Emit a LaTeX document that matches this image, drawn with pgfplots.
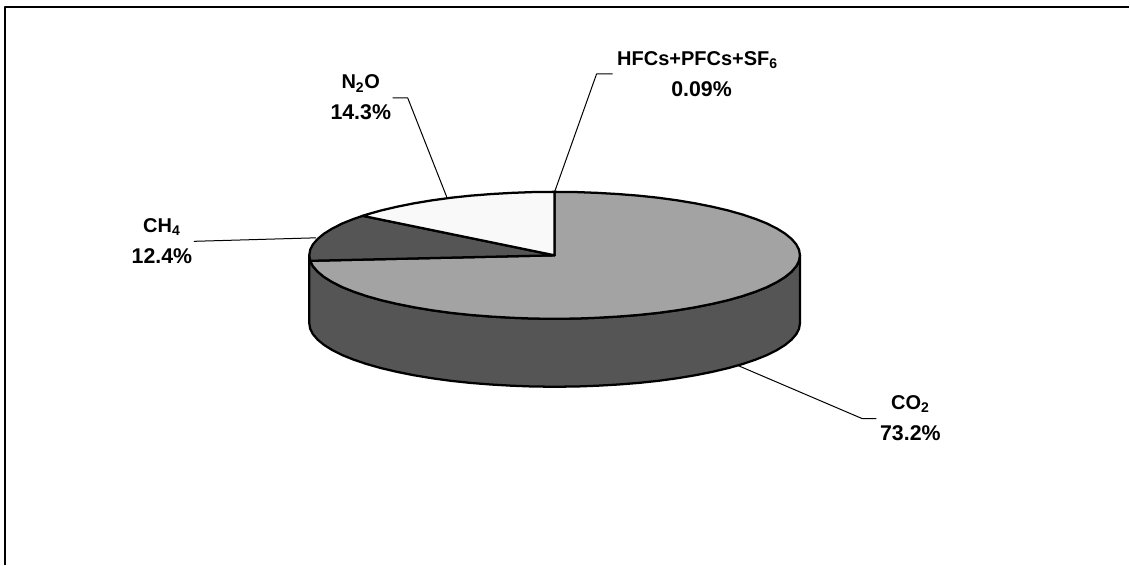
\documentclass[border=0pt]{standalone}
\usepackage{pgfplots}
\pgfplotsset{compat=1.18}
\usepackage{pgfplotstable}
\usepackage{fontspec}
\setmainfont{Liberation Sans}

\definecolor{co2top}{HTML}{A3A3A3}
\definecolor{darkgr}{HTML}{555555}
\definecolor{n2otop}{HTML}{F9F9F9}
\tikzset{lab/.style={font=\fontsize{15}{23}\selectfont\bfseries, align=center, inner sep=0pt}}
\newcommand{\pct}[1]{{\fontsize{16}{23}\selectfont #1\%}}

% all coordinates in reference pixels
\pgfplotstableread{
x y
555.0 255.5
555.0 192.0
576.4 192.2
597.6 193.0
618.5 194.2
639.0 195.8
658.8 197.9
677.8 200.5
695.8 203.5
712.8 206.9
728.6 210.6
743.1 214.7
756.1 219.1
767.6 223.7
777.5 228.7
785.7 233.8
792.1 239.1
796.8 244.5
799.6 250.0
800.5 255.5
799.6 261.0
796.8 266.5
792.1 271.9
785.7 277.2
777.5 282.3
767.6 287.3
756.1 291.9
743.1 296.3
728.6 300.4
712.8 304.1
695.8 307.5
677.8 310.5
658.8 313.1
639.0 315.2
618.5 316.8
597.6 318.0
576.4 318.8
555.0 319.0
533.6 318.8
512.4 318.0
491.5 316.8
471.0 315.2
451.2 313.1
432.2 310.5
414.2 307.5
397.2 304.1
381.4 300.4
366.9 296.3
353.9 291.9
342.4 287.3
332.5 282.3
324.3 277.2
317.9 271.9
313.2 266.5
310.4 261.0
}\cotwotop

\pgfplotstableread{
x y
555.0 255.5
310.4 261.0
309.5 255.5
310.4 250.0
313.2 244.5
317.9 239.1
324.3 233.8
332.5 228.7
342.4 223.7
353.9 219.1
363.0 216.0
}\chfourtop

\pgfplotstableread{
x y
555.0 255.5
363.0 216.0
366.9 214.7
381.4 210.6
397.2 206.9
414.2 203.5
432.2 200.5
451.2 197.9
471.0 195.8
491.5 194.2
512.4 193.0
533.6 192.2
555.0 192.0
}\ntwootop

\pgfplotstableread{
x y
309.5 255.5
310.4 261.0
313.2 266.5
317.9 271.9
324.3 277.2
332.5 282.3
342.4 287.3
353.9 291.9
366.9 296.3
381.4 300.4
397.2 304.1
414.2 307.5
432.2 310.5
451.2 313.1
471.0 315.2
491.5 316.8
512.4 318.0
533.6 318.8
555.0 319.0
576.4 318.8
597.6 318.0
618.5 316.8
639.0 315.2
658.8 313.1
677.8 310.5
695.8 307.5
712.8 304.1
728.6 300.4
743.1 296.3
756.1 291.9
767.6 287.3
777.5 282.3
785.7 277.2
792.1 271.9
796.8 266.5
799.6 261.0
800.5 255.5
800.5 323.5
799.6 329.0
796.8 334.5
792.1 339.9
785.7 345.2
777.5 350.3
767.6 355.3
756.1 359.9
743.1 364.3
728.6 368.4
712.8 372.1
695.8 375.5
677.8 378.5
658.8 381.1
639.0 383.2
618.5 384.8
597.6 386.0
576.4 386.8
555.0 387.0
533.6 386.8
512.4 386.0
491.5 384.8
471.0 383.2
451.2 381.1
432.2 378.5
414.2 375.5
397.2 372.1
381.4 368.4
366.9 364.3
353.9 359.9
342.4 355.3
332.5 350.3
324.3 345.2
317.9 339.9
313.2 334.5
310.4 329.0
309.5 323.5
}\sidewall

\begin{document}
\begin{tikzpicture}
\begin{axis}[
    scale only axis,
    width=847.5pt, height=423.75pt,
    xmin=0, xmax=1130,
    ymin=0, ymax=565,
    y dir=reverse,
    hide axis,
    clip=false,
    every axis plot/.append style={line join=round},
]
% keep the whole page, hide axis drops it from the bounding box
\path (axis cs:0,0) rectangle (axis cs:1130,565);

% frame, only top and left show
\addplot[black, line width=1.2pt, no marks] coordinates {(5,565)(5,7)(1130,7)};

% leaders
\addplot[black, line width=0.75pt, no marks] coordinates {(555,192)(597,74)(613,74)};
\addplot[black, line width=0.75pt, no marks] coordinates {(447,197)(408,98)(393,98)};
\addplot[black, line width=0.75pt, no marks] coordinates {(316,238)(194,241.5)};
\addplot[black, line width=0.75pt, no marks] coordinates {(739,366)(863,419)(877,419)};

% pie
\addplot[fill=darkgr, draw=black, line width=1.7pt, no marks] table {\sidewall} --cycle;
\addplot[fill=co2top, draw=black, line width=1.7pt, no marks] table {\cotwotop} --cycle;
\addplot[fill=darkgr, draw=black, line width=1.7pt, no marks] table {\chfourtop} --cycle;
\addplot[fill=n2otop, draw=black, line width=1.7pt, no marks] table {\ntwootop} --cycle;

% labels
\node[lab] at (axis cs:698,74) {HFCs+PFCs+SF\textsubscript{6}\\\hspace*{6pt}\pct{0.09}};
\node[lab] at (axis cs:361,97.5) {N\textsubscript{2}O\\\pct{14.3}};
\node[lab] at (axis cs:162,241.5) {CH\textsubscript{4}\\\pct{12.4}};
\node[lab] at (axis cs:911,418.5) {CO\textsubscript{2}\\\pct{73.2}};
\end{axis}
\end{tikzpicture}
\end{document}
